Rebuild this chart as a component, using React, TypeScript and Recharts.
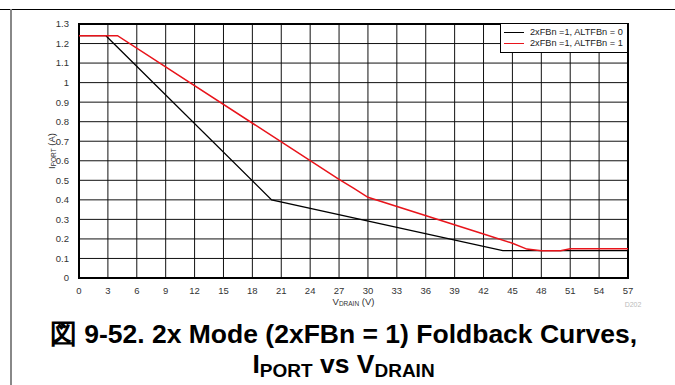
import React from 'react';
import { LineChart, Line, XAxis, YAxis, CartesianGrid, ReferenceArea, Legend } from 'recharts';

// V_DRAIN (V) / I_PORT (A)
const blackV = [0, 2.8, 3, 20, 44, 57];
const blackI = [1.24, 1.24, 1.23, 0.4, 0.14, 0.14];
const redV = [0, 4, 27, 28.5, 30, 42, 45, 46.5, 48, 50, 51, 57];
const redI = [1.24, 1.24, 0.505, 0.46, 0.413, 0.225, 0.178, 0.148, 0.14, 0.14, 0.15, 0.15];

const xTicks = [0, 3, 6, 9, 12, 15, 18, 21, 24, 27, 30, 33, 36, 39, 42, 45, 48, 51, 54, 57];
const yTicks = [0, 0.1, 0.2, 0.3, 0.4, 0.5, 0.6, 0.7, 0.8, 0.9, 1, 1.1, 1.2, 1.3];

const seriesNames = ['2xFBn =1, ALTFBn = 0', '2xFBn =1, ALTFBn = 1'];
const seriesColors = ['#000000', '#e8141b'];

const blackData = blackV.map((x, i) => ({ x, y: blackI[i] }));
const redData = redV.map((x, i) => ({ x, y: redI[i] }));

const FONT = '"Liberation Sans", Arial, Helvetica, sans-serif';

const YLabel = ({ viewBox }: any) => {
  const cy = viewBox ? viewBox.y + viewBox.height / 2 : 150;
  return (
    <text x={51} y={cy} transform={`rotate(-90 51 ${cy})`} textAnchor="middle" dominantBaseline="central"
      fontSize={9.5} fill="#333" fontFamily={FONT}>
      I<tspan fontSize={6.5} dy={2}>PORT</tspan><tspan dy={-2}> (A)</tspan>
    </text>
  );
};

const XLabel = ({ viewBox }: any) => {
  const cx = viewBox ? viewBox.x + viewBox.width / 2 : 353;
  return (
    <g>
      <text x={cx} y={301} textAnchor="middle" dominantBaseline="central" fontSize={9.5} fill="#333" fontFamily={FONT}>
        V<tspan fontSize={6.5} dy={2}>DRAIN</tspan><tspan dy={-2}> (V)</tspan>
      </text>
      <text x={633} y={304} textAnchor="middle" dominantBaseline="central" fontSize={7} fill="#bbb" fontFamily={FONT}>D202</text>
    </g>
  );
};

const LegendBox = () => (
  <div style={{ boxSizing: 'border-box', width: 128, border: '1.5px solid #000', background: '#fff', padding: '3px 0 3px 3px', fontFamily: FONT, fontSize: 9.2, color: '#222', lineHeight: '11px', whiteSpace: 'nowrap' }}>
    {seriesNames.map((n, i) => (
      <div key={n} style={{ display: 'flex', alignItems: 'center' }}>
        <span style={{ display: 'inline-block', width: 20, height: 1.5, background: seriesColors[i], marginRight: 6 }} />
        {n}
      </div>
    ))}
  </div>
);

const subStyle: React.CSSProperties = { fontSize: 19, verticalAlign: -3.5 };

const App: React.FC = () => {
  return (
    <div style={{ position: 'absolute', left: 0, top: 0, width: 675, height: 385, background: '#fff', overflow: 'hidden' }}>
      <div style={{ position: 'absolute', left: 0, top: 9, width: 675, height: 1, background: '#000' }} />
      <div style={{ position: 'absolute', left: 10, top: 9, width: 2, height: 376, background: '#888' }} />
      <div style={{ position: 'absolute', left: 0, top: 0 }}>
        <LineChart width={675} height={320} margin={{ top: 24, right: 47, left: 39, bottom: 12 }}>
          <CartesianGrid stroke="#111" strokeWidth={1} />
          <XAxis dataKey="x" type="number" domain={[0, 57]} ticks={xTicks} interval={0} allowDataOverflow
            tickLine={false} axisLine={false} height={30} tickMargin={3}
            tick={{ fontSize: 9.5, fill: '#333', fontFamily: FONT }} label={<XLabel />} />
          <YAxis type="number" domain={[0, 1.3]} ticks={yTicks} interval={0} allowDataOverflow
            tickLine={false} axisLine={false} width={40} tickMargin={4}
            tick={{ fontSize: 9.5, fill: '#333', fontFamily: FONT }} label={<YLabel />} />
          <ReferenceArea x1={0} x2={57} y1={0} y2={1.3} fill="none" stroke="#000" strokeWidth={2} />
          <Line data={blackData} dataKey="y" name={seriesNames[0]} type="linear" stroke={seriesColors[0]} strokeWidth={1.3} dot={false} isAnimationActive={false} />
          <Line data={redData} dataKey="y" name={seriesNames[1]} type="linear" stroke={seriesColors[1]} strokeWidth={1.5} dot={false} isAnimationActive={false} />
          <Legend layout="horizontal" verticalAlign="middle" align="center" content={<LegendBox />}
            wrapperStyle={{ top: 23, left: 500, width: 128 }} />
        </LineChart>
      </div>
      <div style={{ position: 'absolute', left: 12, top: 319, width: 663, textAlign: 'center', fontFamily: FONT, fontWeight: 'bold', fontSize: 26.5, color: '#000', lineHeight: '30px', whiteSpace: 'nowrap' }}>
        <div>図 9-52. 2x Mode (2xFBn = 1) Foldback Curves,</div>
        <div>I<span style={subStyle}>PORT</span> vs V<span style={subStyle}>DRAIN</span></div>
      </div>
    </div>
  );
};

export default App;
